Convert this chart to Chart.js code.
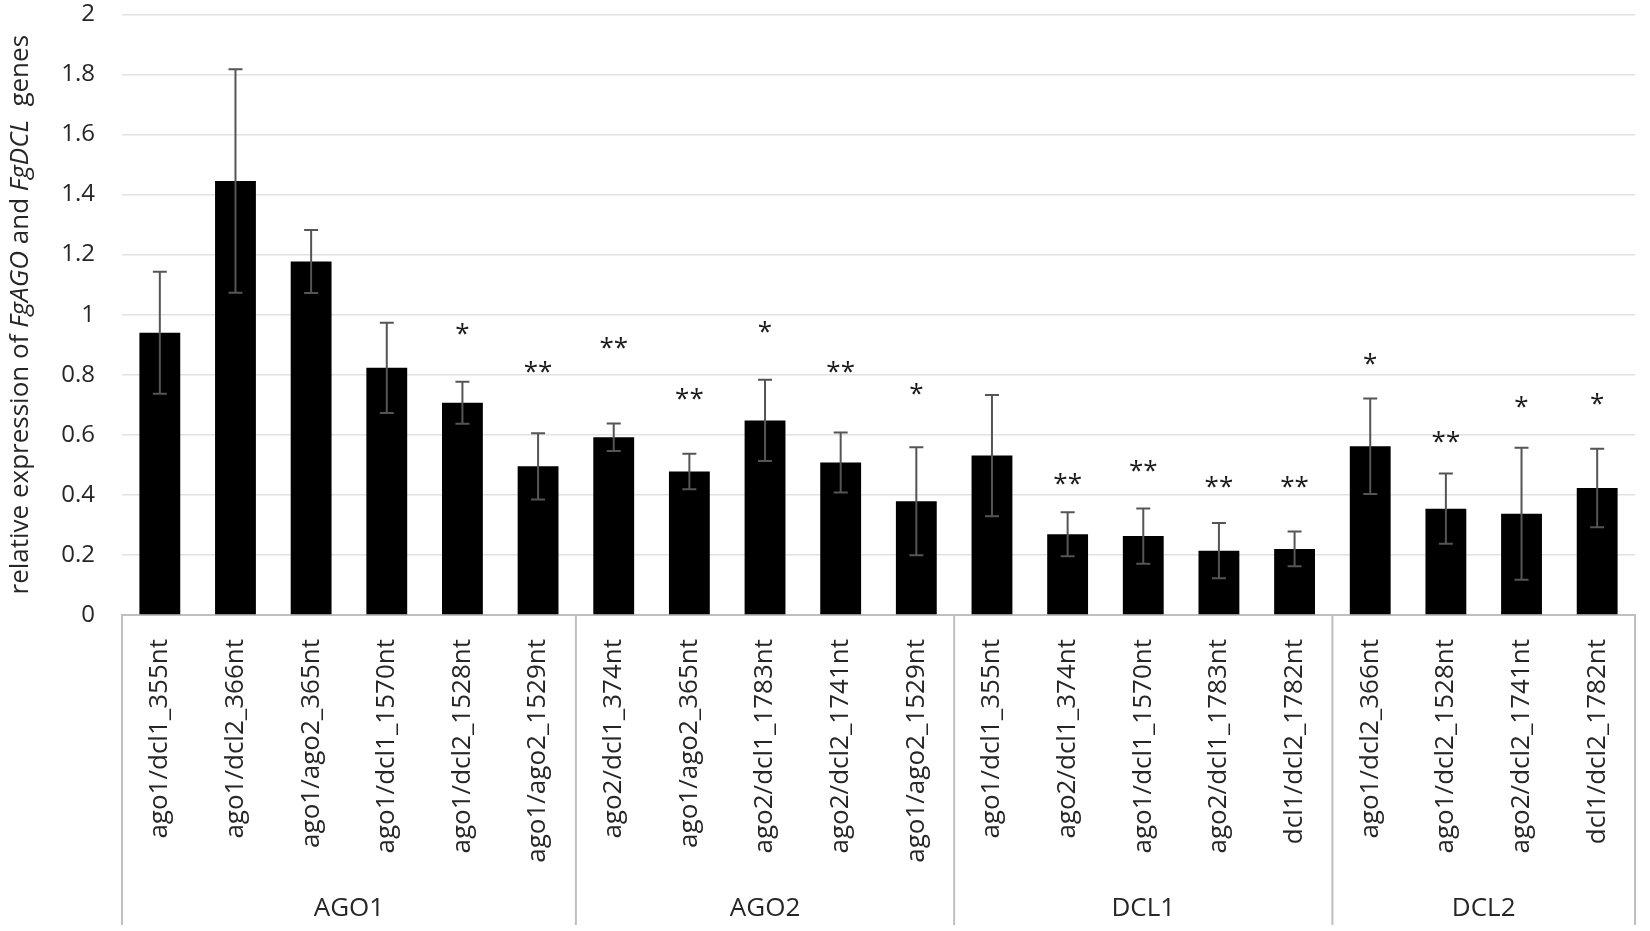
<!DOCTYPE html>
<html>
<head>
<meta charset="utf-8">
<script src="https://cdn.jsdelivr.net/npm/chart.js@4"></script>
<style>
  html, body { margin: 0; padding: 0; background: #ffffff; }
  #wrap { width: 1650px; height: 931px; position: relative; }
</style>
</head>
<body>
<div id="wrap"><canvas id="c" width="1650" height="931"></canvas></div>
<script>
const categories = [
  'ago1/dcl1_355nt', 'ago1/dcl2_366nt', 'ago1/ago2_365nt', 'ago1/dcl1_1570nt', 'ago1/dcl2_1528nt', 'ago1/ago2_1529nt',
  'ago2/dcl1_374nt', 'ago1/ago2_365nt', 'ago2/dcl1_1783nt', 'ago2/dcl2_1741nt', 'ago1/ago2_1529nt',
  'ago1/dcl1_355nt', 'ago2/dcl1_374nt', 'ago1/dcl1_1570nt', 'ago2/dcl1_1783nt', 'dcl1/dcl2_1782nt',
  'ago1/dcl2_366nt', 'ago1/dcl2_1528nt', 'ago2/dcl2_1741nt', 'dcl1/dcl2_1782nt'
];
const groups = ['AGO1', 'AGO2', 'DCL1', 'DCL2'];
const groupSizes = [6, 5, 5, 4];
const values = [0.94, 1.445, 1.177, 0.823, 0.707, 0.495,
                0.592, 0.478, 0.648, 0.508, 0.379,
                0.531, 0.269, 0.263, 0.214, 0.220,
                0.562, 0.354, 0.337, 0.423];
const errors = [0.203, 0.372, 0.105, 0.150, 0.070, 0.110,
                0.046, 0.059, 0.135, 0.100, 0.180,
                0.202, 0.073, 0.092, 0.092, 0.058,
                0.159, 0.117, 0.220, 0.131];
const stars = ['', '', '', '', '*', '**',
               '**', '**', '*', '**', '*',
               '', '**', '**', '**', '**',
               '*', '**', '*', '*'];
const starLevels = [null, null, null, null, 0.952, 0.825,
                    0.906, 0.735, 0.960, 0.826, 0.753,
                    null, 0.453, 0.496, 0.442, 0.442,
                    0.851, 0.594, 0.709, 0.720];
const yTicks = [0, 0.2, 0.4, 0.6, 0.8, 1, 1.2, 1.4, 1.6, 1.8, 2];

const FONT = "'Open Sans', 'DejaVu Sans', sans-serif";
const TEXT = '#262626';
const CLEAR = 'rgba(0,0,0,0)';

const overlay = {
  id: 'overlay',
  afterDatasetsDraw(chart) {
    const ctx = chart.ctx;
    const xs = chart.scales.x, ys = chart.scales.y;
    ctx.save();
    // error bars
    ctx.strokeStyle = '#555555';
    ctx.lineWidth = 2;
    values.forEach((v, i) => {
      const x = xs.getPixelForValue(i);
      const yTop = ys.getPixelForValue(v + errors[i]);
      const yBot = ys.getPixelForValue(v - errors[i]);
      ctx.beginPath();
      ctx.moveTo(x, yTop); ctx.lineTo(x, yBot);
      ctx.moveTo(x - 7, yTop); ctx.lineTo(x + 7, yTop);
      ctx.moveTo(x - 7, yBot); ctx.lineTo(x + 7, yBot);
      ctx.stroke();
    });
    // significance stars
    ctx.fillStyle = '#1a1a1a';
    ctx.font = '26px ' + FONT;
    ctx.textAlign = 'center';
    ctx.textBaseline = 'alphabetic';
    const m = ctx.measureText('*');
    const off = (m.actualBoundingBoxAscent - m.actualBoundingBoxDescent) / 2;
    stars.forEach((s, i) => {
      if (!s) return;
      const x = xs.getPixelForValue(i);
      const y = ys.getPixelForValue(starLevels[i]);
      ctx.fillText(s, x, y + off);
    });
    ctx.restore();
  },
  afterDraw(chart) {
    const ctx = chart.ctx;
    const xs = chart.scales.x;
    const area = chart.chartArea;
    ctx.save();
    // group separators
    ctx.strokeStyle = '#bfbfbf';
    ctx.lineWidth = 2;
    const bounds = [];
    let idx = 0;
    bounds.push(xs.left);
    groupSizes.forEach((n) => {
      idx += n;
      if (idx < categories.length) {
        bounds.push((xs.getPixelForValue(idx - 1) + xs.getPixelForValue(idx)) / 2);
      } else {
        bounds.push(xs.right);
      }
    });
    bounds.forEach(bx => {
      ctx.beginPath();
      ctx.moveTo(bx, area.bottom);
      ctx.lineTo(bx, area.bottom + 310);
      ctx.stroke();
    });
    // group labels
    ctx.fillStyle = TEXT;
    ctx.font = '26px ' + FONT;
    ctx.textAlign = 'center';
    ctx.textBaseline = 'middle';
    groups.forEach((g, k) => {
      ctx.fillText(g, (bounds[k] + bounds[k + 1]) / 2, area.bottom + 294);
    });
    // y-axis title with italic gene names
    const parts = [
      ['relative expression of ', false],
      ['FgAGO', true],
      [' and ', false],
      ['FgDCL', true],
      ['  genes', false]
    ];
    const fs = 26;
    let total = 0;
    parts.forEach(p => {
      ctx.font = (p[1] ? 'italic ' : '') + fs + 'px ' + FONT;
      total += ctx.measureText(p[0]).width;
    });
    const cy = (area.top + area.bottom) / 2;
    ctx.translate(21, cy);
    ctx.rotate(-Math.PI / 2);
    ctx.textAlign = 'left';
    ctx.textBaseline = 'middle';
    let xpos = -total / 2;
    parts.forEach(p => {
      ctx.font = (p[1] ? 'italic ' : '') + fs + 'px ' + FONT;
      ctx.fillText(p[0], xpos, 0);
      xpos += ctx.measureText(p[0]).width;
    });
    ctx.restore();
  }
};

new Chart(document.getElementById('c'), {
  type: 'bar',
  data: {
    labels: categories,
    datasets: [{
      data: values,
      backgroundColor: '#000000',
      borderWidth: 0,
      barPercentage: 0.54,
      categoryPercentage: 1.0
    }]
  },
  options: {
    responsive: false,
    animation: false,
    devicePixelRatio: 1,
    layout: { padding: { top: 0, right: 15, bottom: 0, left: 0 } },
    plugins: { legend: { display: false }, tooltip: { enabled: false } },
    scales: {
      x: {
        grid: { display: true, drawOnChartArea: false, color: CLEAR, drawTicks: true, tickLength: 24, tickColor: CLEAR },
        border: { display: true, color: '#bfbfbf', width: 2 },
        ticks: {
          color: TEXT,
          font: { family: FONT, size: 26 },
          minRotation: 90,
          maxRotation: 90,
          padding: 0,
          autoSkip: false
        },
        afterFit(scale) {
          scale.height = 316;
          scale.paddingLeft = 0;
          scale.paddingRight = 0;
        }
      },
      y: {
        min: 0,
        max: 2,
        afterBuildTicks(scale) { scale.ticks = yTicks.map(v => ({ value: v })); },
        grid: { color: '#e2e2e2', lineWidth: 1.5, drawTicks: true, tickLength: 27, tickColor: CLEAR },
        border: { display: false },
        ticks: {
          color: TEXT,
          font: { family: FONT, size: 24 },
          padding: 0,
          callback: v => String(+Number(v).toFixed(1))
        },
        afterFit(scale) { scale.width = 122; }
      }
    }
  },
  plugins: [overlay]
});
</script>
</body>
</html>
